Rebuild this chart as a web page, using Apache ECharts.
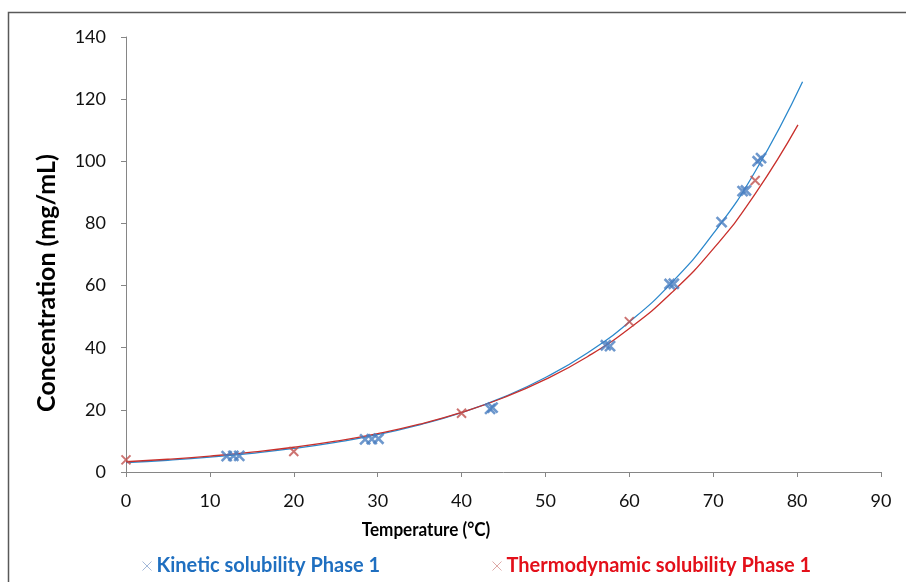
<!DOCTYPE html>
<html>
<head>
<meta charset="utf-8">
<script src="https://cdn.jsdelivr.net/npm/echarts@6/dist/echarts.min.js"></script>
<style>
  html, body { margin: 0; padding: 0; background: #fff; }
  #chart { width: 906px; height: 582px; }
</style>
</head>
<body>
<div id="chart"></div>
<script>
// Measured solubility points
const kineticTemp = [12.0, 12.8, 13.5, 28.5, 29.3, 30.1, 43.4, 43.7, 57.2, 57.7, 64.8, 65.3, 71.0, 73.5, 73.9, 75.3, 75.7];
const kineticConc = [5.1, 5.2, 5.2, 10.5, 10.6, 10.7, 20.3, 20.7, 40.8, 40.5, 60.5, 60.6, 80.4, 90.4, 90.6, 100.0, 101.0];
const thermoTemp = [0, 20, 40, 60, 75];
const thermoConc = [3.9, 6.6, 18.9, 48.4, 93.8];

// Exponential trendlines, sampled along the temperature axis
const kineticTrendTemp = [0, 5, 10, 15, 20, 25, 30, 35, 40, 45, 50, 55, 60, 65, 70, 75, 80.65];
const kineticTrendConc = [3.0, 3.78, 4.77, 6.01, 7.57, 9.55, 12.0, 15.2, 19.1, 24.1, 30.4, 38.3, 48.3, 60.8, 76.7, 96.7, 125.6];
const thermoTrendTemp = [0, 5, 10, 15, 20, 25, 30, 35, 40, 45, 50, 55, 60, 65, 70, 75, 80.1];
const thermoTrendConc = [3.3, 4.11, 5.12, 6.39, 7.96, 9.91, 12.35, 15.4, 19.2, 23.9, 29.8, 37.1, 46.2, 57.6, 71.8, 89.5, 111.7];

// Axis settings
const xTicks = { min: 0, max: 90, step: 10 };
const yTicks = { min: 0, max: 140, step: 20 };

const seriesNames = ['Kinetic solubility Phase 1', 'Thermodynamic solubility Phase 1'];

const pairs = (xs, ys) => xs.map((x, i) => [x, ys[i]]);
const cross = 'path://M0,0L10,10M10,0L0,10';
const FONT = 'Lato, "Open Sans", sans-serif';

const chart = echarts.init(document.getElementById('chart'), null, { renderer: 'canvas' });

const axisCommon = {
  type: 'value',
  axisLine: { show: true, lineStyle: { color: '#868686', width: 1 } },
  axisTick: { show: true, inside: false, length: 5, lineStyle: { color: '#868686' } },
  splitLine: { show: false },
  axisLabel: { color: '#111', fontFamily: FONT, fontSize: 18, margin: 20 }
};

chart.setOption({
  animation: false,
  backgroundColor: '#fff',
  grid: { left: 126, right: 25, top: 37, bottom: 110, containLabel: false },
  xAxis: Object.assign({}, axisCommon, {
    min: xTicks.min, max: xTicks.max, interval: xTicks.step
  }),
  yAxis: Object.assign({}, axisCommon, {
    min: yTicks.min, max: yTicks.max, interval: yTicks.step
  }),
  graphic: [
    {
      type: 'rect', silent: true,
      shape: { x: 8.5, y: 12.5, width: 1000, height: 1000 },
      style: { fill: 'none', stroke: '#595959', lineWidth: 1.5 }
    },
    {
      type: 'text', silent: true,
      x: 426, y: 530, scaleX: 0.9,
      style: {
        text: 'Temperature (°C)',
        fontFamily: FONT, fontSize: 19, fontWeight: 'bold', fill: '#000',
        align: 'center', verticalAlign: 'middle'
      }
    },
    {
      type: 'text', silent: true,
      x: 47, y: 283, rotation: Math.PI / 2,
      style: {
        text: 'Concentration (mg/mL)',
        fontFamily: FONT, fontSize: 25, fontWeight: 'bold', fill: '#000',
        align: 'center', verticalAlign: 'middle'
      }
    }
  ],
  legend: [
    {
      left: 135, top: 551, icon: cross, itemWidth: 9, itemHeight: 9, itemGap: 6,
      data: [{
        name: seriesNames[0],
        itemStyle: { color: 'none', borderColor: '#8DA8CF', borderWidth: 1 },
        textStyle: { color: '#1F6FC0' }
      }],
      textStyle: { fontFamily: FONT, fontSize: 20, fontWeight: 'bold' }
    },
    {
      left: 485, top: 551, icon: cross, itemWidth: 9, itemHeight: 9, itemGap: 6,
      data: [{
        name: seriesNames[1],
        itemStyle: { color: 'none', borderColor: '#D69391', borderWidth: 1 },
        textStyle: { color: '#E3101A' }
      }],
      textStyle: { fontFamily: FONT, fontSize: 20, fontWeight: 'bold' }
    }
  ],
  series: [
    {
      name: 'kinetic-trend', type: 'line', smooth: true, showSymbol: false, silent: true,
      data: pairs(kineticTrendTemp, kineticTrendConc),
      lineStyle: { color: '#2B88CC', width: 1.3 }, z: 2
    },
    {
      name: 'thermo-trend', type: 'line', smooth: true, showSymbol: false, silent: true,
      data: pairs(thermoTrendTemp, thermoTrendConc),
      lineStyle: { color: '#C9302C', width: 1.3 }, z: 2
    },
    {
      name: seriesNames[0], type: 'scatter', symbol: cross, symbolSize: 10,
      data: pairs(kineticTemp, kineticConc),
      itemStyle: { color: 'none', borderColor: '#4A7EC0', borderWidth: 2.6 }, z: 3
    },
    {
      name: seriesNames[1], type: 'scatter', symbol: cross, symbolSize: 9,
      data: pairs(thermoTemp, thermoConc),
      itemStyle: { color: 'none', borderColor: '#C0504D', borderWidth: 2 }, z: 3
    }
  ]
});
</script>
</body>
</html>
